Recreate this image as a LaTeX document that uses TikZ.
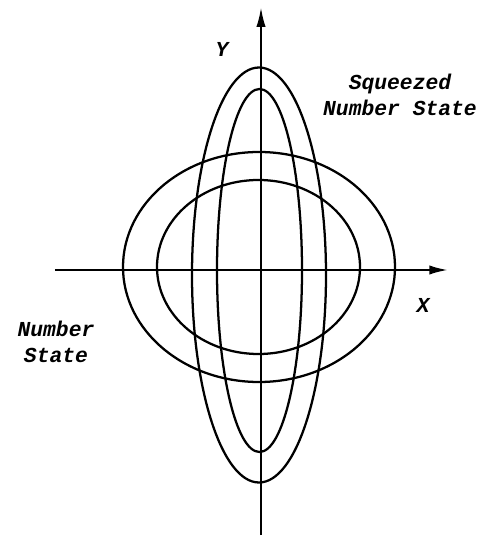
\documentclass[tikz,border=0pt]{standalone}
\usepackage{fontspec}
\newfontfamily\lblfont{Liberation Mono}
\usetikzlibrary{arrows.meta}
\tikzset{phase/.style={x=0.75pt,y=0.75pt,line width=1.7pt,
    font=\lblfont\bfseries\itshape\fontsize{16}{19}\selectfont}}

\begin{document}
\begin{tikzpicture}[phase]
    \useasboundingbox (-261,-269) rectangle (218,270);
    \coordinate (xl) at (-206,0);
    \coordinate (xr) at (187,0);
    \coordinate (yb) at (0,-265);
    \coordinate (yt) at (0,263);
    \draw[-{Latex[length=14pt,width=7pt]}] (xl) -- (xr);
    \draw[-{Latex[length=15pt,width=7pt]}] (yb) -- (yt);
    \draw (-2,3) ellipse [x radius=136, y radius=115];      % number state, outer
    \draw (-2.5,3) ellipse [x radius=101.5, y radius=87];   % number state, inner
    \draw (-2,-5) ellipse [x radius=67, y radius=207.5];    % squeezed, outer
    \draw (-1.5,-0.5) ellipse [x radius=42.5, y radius=181.5]; % squeezed, inner
    \node (ylab) at (-39,221) {Y};
    \node (xlab) at (162,-35) {X};
    \node[align=center] (sqz) at (139,175) {Squeezed\\Number State};
    \node[align=center] (num) at (-205,-72) {Number\\State};
\end{tikzpicture}
\end{document}
